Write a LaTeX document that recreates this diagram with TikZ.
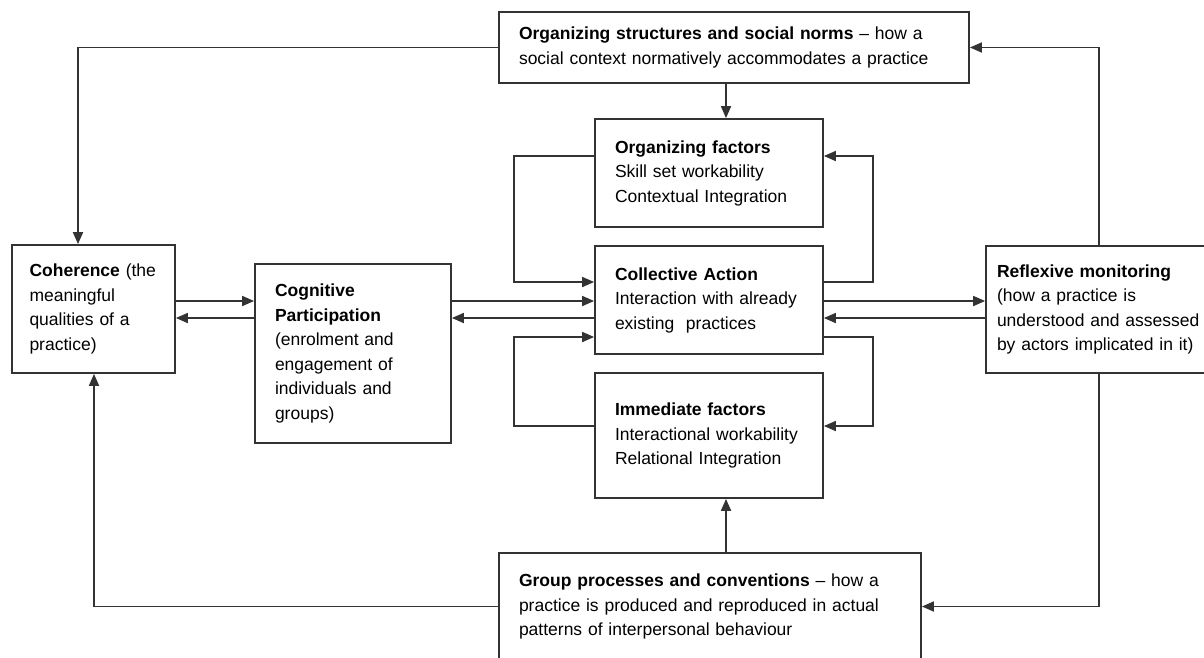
\documentclass[tikz,border=0pt]{standalone}
\usepackage{fontspec}
\setmainfont{Liberation Sans}
\usetikzlibrary{arrows.meta}

\begin{document}
\begin{tikzpicture}[x=1pt,y=-1pt,
		font=\fontsize{17.5}{24.5}\selectfont,
		box/.style={draw=black!80, line width=1.8pt, rectangle, align=left, inner xsep=20pt, inner ysep=0pt},
		flow/.style={draw=black!80, line width=1.8pt, -{Stealth[length=12pt,width=10pt,inset=0pt]}}]
		\useasboundingbox (0,0) rectangle (1204,657);
		
		% boxes
		\node[box, text width=430pt, minimum height=71pt] (norms) at (734,47.5) {\textbf{Organizing structures and social norms} – how a\\social context normatively accommodates a practice};
		\node[box, text width=188pt, minimum height=108pt] (orgfac) at (709,173) {\textbf{Organizing factors}\\Skill set workability\\Contextual Integration};
		\node[box, text width=188pt, minimum height=108pt] (collective) at (709,300) {\textbf{Collective Action}\\Interaction with already\\existing~ practices};
		\node[box, text width=188pt, minimum height=125pt] (immediate) at (709,435.5) {\textbf{Immediate factors}\\Interactional workability\\Relational Integration};
		\node[box, text width=128pt, inner xsep=17.5pt, minimum height=128pt] (coherence) at (93.5,309) {\textbf{Coherence} (the\\meaningful\\qualities of a\\practice)};
		\node[box, text width=156pt, minimum height=179pt] (cognitive) at (353,353.5) {\textbf{Cognitive}\\\textbf{Participation}\\(enrolment and\\engagement of\\individuals and\\groups)};
		\node[box, text width=212pt, inner xsep=11pt, minimum height=127pt] (reflexive) at (1103,309.5) {\textbf{Reflexive monitoring}\\(how a practice is\\understood and assessed\\by actors implicated in it)};
		\node[box, text width=382pt, minimum height=107pt] (group) at (710,606.5) {\textbf{Group processes and conventions} – how a\\practice is produced and reproduced in actual\\patterns of interpersonal behaviour};
		
		\coordinate (lout) at (78,0);
		\coordinate (lin) at (94,0);
		\coordinate (lloop) at (514,0);
		\coordinate (down) at (726,0);
		\coordinate (rloop) at (873,0);
		\coordinate (rout) at (1099,0);
		
		% outer loop
		\draw[flow] (norms.west) -| (coherence.north -| lout);
		\draw[flow] (reflexive.north -| rout) |- (norms.east);
		\draw[flow] (norms.south -| down) -- (orgfac.north -| down);
		\draw[flow] (group.north -| down) -- (immediate.south -| down);
		\draw[flow] (group.west) -| (coherence.south -| lin);
		\draw[flow] (reflexive.south -| rout) |- (group.east);
		
		% factors and collective action
		\draw[flow] (orgfac.west |- 0,156) -| (lloop |- 0,282) -- (collective.west |- 0,282);
		\draw[flow] (collective.east |- 0,282) -| (rloop |- 0,156) -- (orgfac.east |- 0,156);
		\draw[flow] (immediate.west |- 0,426) -| (lloop |- 0,337) -- (collective.west |- 0,337);
		\draw[flow] (collective.east |- 0,337) -| (rloop |- 0,426) -- (immediate.east |- 0,426);
		
		% middle row
		\draw[flow] (coherence.east |- 0,301) -- (cognitive.west |- 0,301);
		\draw[flow] (cognitive.west |- 0,318) -- (coherence.east |- 0,318);
		\draw[flow] (cognitive.east |- 0,301) -- (collective.west |- 0,301);
		\draw[flow] (collective.west |- 0,318) -- (cognitive.east |- 0,318);
		\draw[flow] (collective.east |- 0,301) -- (reflexive.west |- 0,301);
		\draw[flow] (reflexive.west |- 0,318) -- (collective.east |- 0,318);
\end{tikzpicture}
\end{document}
